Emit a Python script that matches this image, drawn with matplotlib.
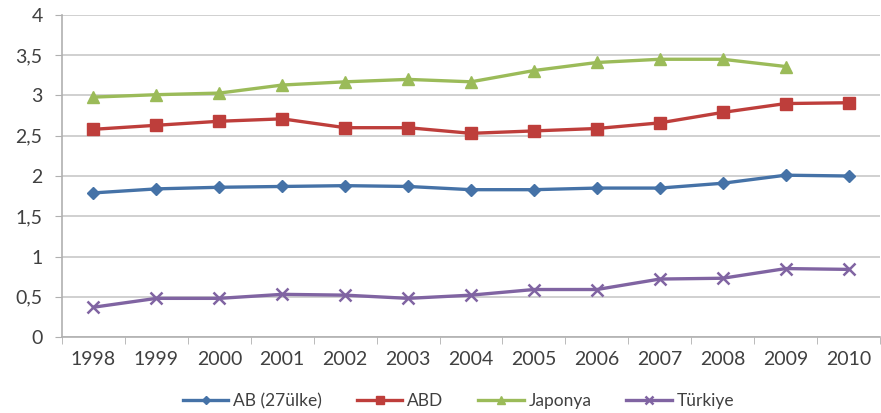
# -*- coding: utf-8 -*-
# R&D spending share, 1998-2010

import numpy as np
import matplotlib.pyplot as plt
from matplotlib.ticker import FuncFormatter

plt.rcParams['font.family'] = ['Lato', 'DejaVu Sans']

years = ['1998', '1999', '2000', '2001', '2002', '2003', '2004',
         '2005', '2006', '2007', '2008', '2009', '2010']

ab = [1.79, 1.84, 1.86, 1.87, 1.88, 1.87, 1.83, 1.83, 1.85, 1.85, 1.91, 2.01, 2.00]
abd = [2.58, 2.63, 2.68, 2.71, 2.60, 2.60, 2.53, 2.56, 2.59, 2.66, 2.79, 2.90, 2.91]
japonya = [2.98, 3.01, 3.03, 3.13, 3.17, 3.20, 3.17, 3.31, 3.41, 3.45, 3.45, 3.36]
turkiye = [0.37, 0.48, 0.48, 0.53, 0.52, 0.48, 0.52, 0.59, 0.59, 0.72, 0.73, 0.85, 0.84]

names = ['AB (27ülke)', 'ABD', 'Japonya', 'Türkiye']

fig = plt.figure(figsize=(8.81, 4.13), dpi=100)
ax = fig.add_axes([0.0704, 0.184, 0.9285, 0.7797])

x = np.arange(len(years))
ax.plot(x, ab, color='#4572A7', lw=2.4, marker='D', ms=6.5, label=names[0])
ax.plot(x, abd, color='#BE3E3B', lw=2.4, marker='s', ms=8.5, label=names[1])
ax.plot(x[:len(japonya)], japonya, color='#9BBB59', lw=2.4, marker='^', ms=9, label=names[2])
ax.plot(x, turkiye, color='#8064A2', lw=2.4, marker='x', ms=9, mew=1.8, label=names[3])

ax.set_xlim(-0.5, len(years) - 0.5)
ax.set_ylim(0, 4)
ax.set_yticks(np.arange(0, 4.01, 0.5))
ax.yaxis.set_major_formatter(FuncFormatter(lambda v, p: ('%g' % v).replace('.', ',')))
ax.set_xticks(x)
ax.set_xticklabels(years)
ax.set_xticks(np.arange(-0.5, len(years), 1), minor=True)

ax.grid(axis='y', color='#c8c8c8', lw=1.2)
ax.set_axisbelow(True)
for s in ['top', 'right']:
    ax.spines[s].set_visible(False)
for s in ['left', 'bottom']:
    ax.spines[s].set_color('#b0b0b0')
    ax.spines[s].set_linewidth(1.2)

ax.tick_params(axis='x', which='major', length=0, pad=10, labelsize=14, labelcolor='#404040')
ax.tick_params(axis='x', which='minor', length=5, color='#b0b0b0')
ax.tick_params(axis='y', length=5, color='#b0b0b0', pad=9, labelsize=14, labelcolor='#404040')

ax.legend(loc='center', bbox_to_anchor=(0.485, -0.2), ncol=4, frameon=False,
          fontsize=12.5, labelcolor='#404040', handlelength=2.6, handletextpad=0.3,
          columnspacing=2.0, markerscale=0.7, borderpad=0.2)

plt.savefig('out.png')
